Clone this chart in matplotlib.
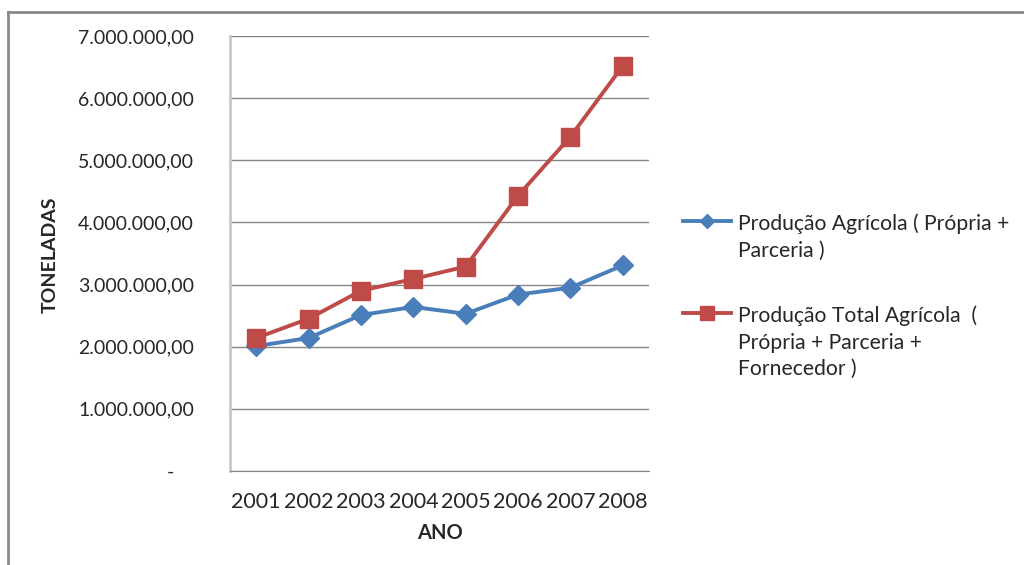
import matplotlib.pyplot as plt
from matplotlib.lines import Line2D
from matplotlib.ticker import FuncFormatter

plt.rcParams['font.family'] = ['Lato', 'DejaVu Sans']

# Produção por ano (toneladas)
anos = ['2001', '2002', '2003', '2004', '2005', '2006', '2007', '2008']
prod_agricola = [2010000, 2140000, 2510000, 2640000, 2530000, 2840000, 2950000, 3310000]
prod_total = [2140000, 2450000, 2900000, 3090000, 3290000, 4430000, 5380000, 6520000]

label_agricola = 'Produção Agrícola ( Própria +\nParceria )'
label_total = 'Produção Total Agrícola  (\nPrópria + Parceria +\nFornecedor )'

azul = '#4a7ebb'
vermelho = '#be4b48'
cinza = '#868686'
texto_cor = '#262626'


def fmt_br(v, pos):
    # formato contábil: 7.000.000,00 e "-" para zero
    if v == 0:
        return '-    '
    s = f'{v:,.2f}'
    return s.replace(',', 'X').replace('.', ',').replace('X', '.')


fig = plt.figure(figsize=(10.24, 5.65), dpi=100)
ax = fig.add_axes([230 / 1024, 1 - 471 / 565, 419 / 1024, 435 / 565])

x = range(len(anos))
ax.plot(x, prod_agricola, color=azul, lw=2.8, marker='D', ms=10.5,
        mec=azul, mfc=azul, zorder=3)
ax.plot(x, prod_total, color=vermelho, lw=2.8, marker='s', ms=13,
        mec=vermelho, mfc=vermelho, zorder=3)

ax.set_xlim(-0.5, len(anos) - 0.5)
ax.set_ylim(0, 7000000)
ax.set_yticks(range(0, 7000001, 1000000))
ax.yaxis.set_major_formatter(FuncFormatter(fmt_br))
ax.set_xticks(list(x))
ax.set_xticklabels(anos)
ax.grid(axis='y', color=cinza, lw=1)
ax.set_axisbelow(True)

for s in ['top', 'right']:
    ax.spines[s].set_visible(False)
ax.spines['left'].set_color('#c8c8c8')
ax.spines['left'].set_linewidth(2)
ax.spines['bottom'].set_color(cinza)
ax.tick_params(axis='both', length=0, colors=texto_cor)
ax.tick_params(axis='y', pad=26, labelsize=14)
ax.tick_params(axis='x', pad=15, labelsize=15.5)

ax.set_xlabel('ANO', fontsize=14.5, fontweight='bold', labelpad=8, color=texto_cor)
fig.text(50 / 1024, 1 - 255 / 565, 'TONELADAS', rotation=90, fontsize=14,
         fontweight='bold', ha='center', va='center', color=texto_cor)

# legenda
def item_legenda(y_px, cor, marcador, ms, texto):
    y = 1 - y_px / 565
    fig.add_artist(Line2D([683 / 1024, 731 / 1024], [y, y], color=cor, lw=2.8,
                          transform=fig.transFigure))
    fig.add_artist(Line2D([707 / 1024], [y], color=cor, marker=marcador, ms=ms,
                          transform=fig.transFigure))
    fig.text(738 / 1024, y + 0.013, texto, fontsize=15.2, color=texto_cor,
             ha='left', va='top', linespacing=1.4)


item_legenda(221, azul, 'D', 7.5, label_agricola)
item_legenda(313, vermelho, 's', 10.5, label_total)

# moldura do gráfico
fig.add_artist(Line2D([8 / 1024, 1], [1 - 12 / 565, 1 - 12 / 565], color='#8a8a8a',
                      lw=2, transform=fig.transFigure))
fig.add_artist(Line2D([8 / 1024, 8 / 1024], [0, 1 - 12 / 565], color='#8a8a8a',
                      lw=2, transform=fig.transFigure))

fig.savefig('out.png', dpi=100)
